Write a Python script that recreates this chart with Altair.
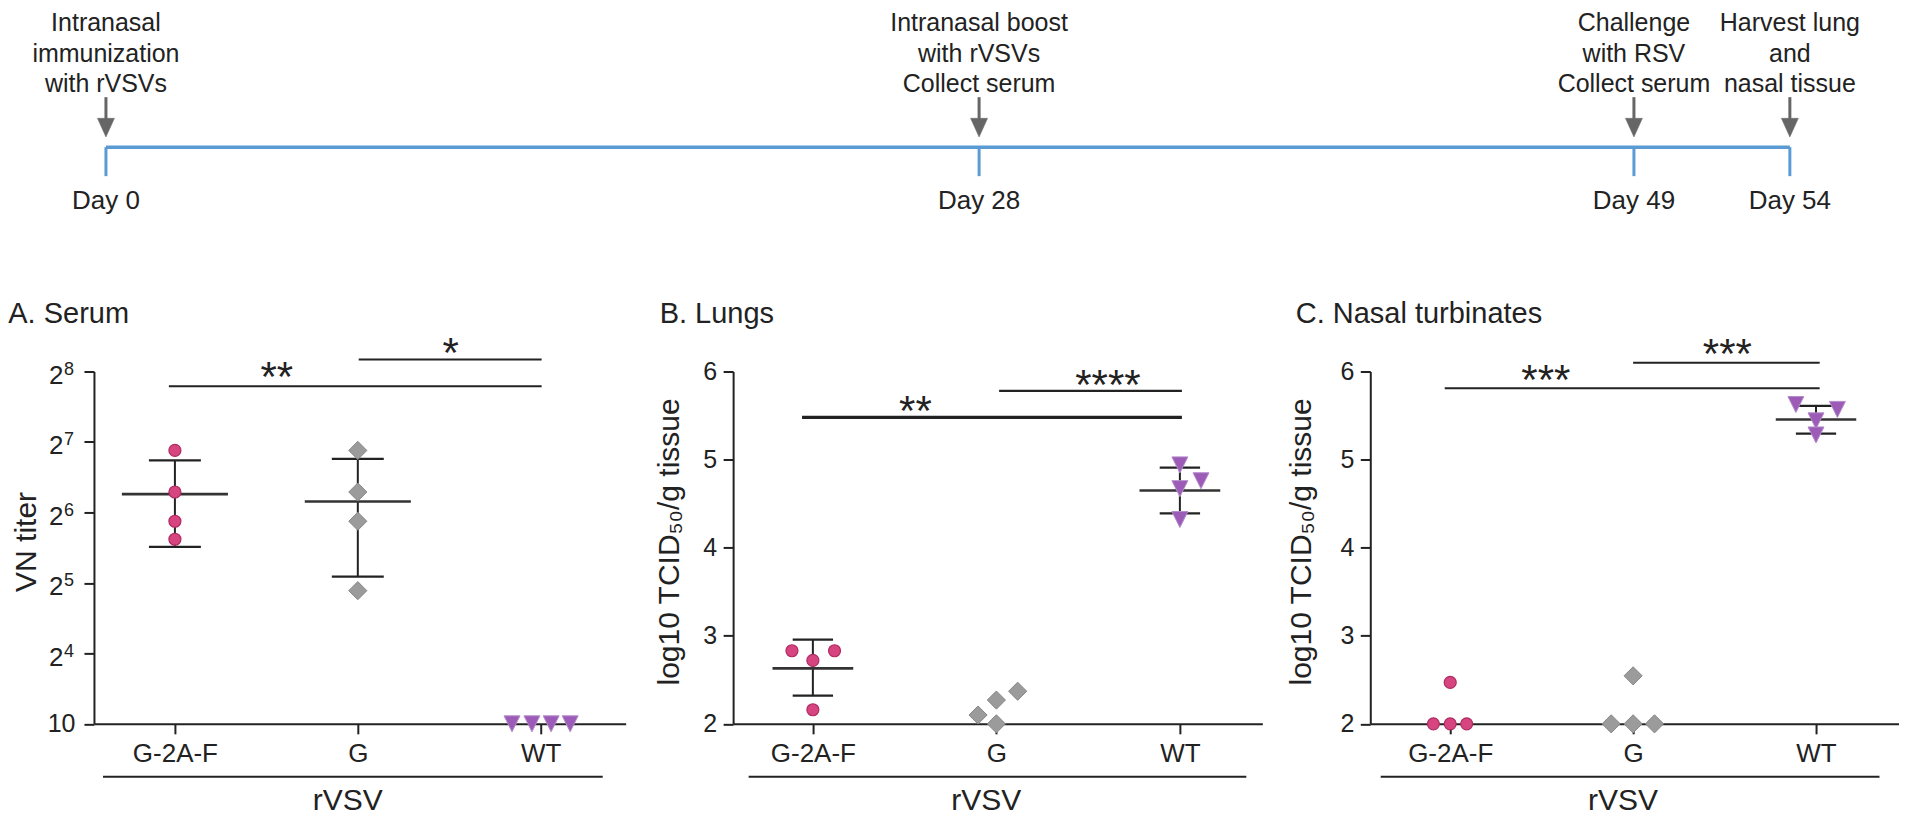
import altair as alt
import pandas as pd

FONT = "Liberation Sans, Arial, Helvetica, sans-serif"
INK = "#222222"
BLUE = "#5b9bd5"
ARROW = "#666666"

# ---------------- timeline ----------------
days = [0, 28, 49, 54]
day_labels = ["Day 0", "Day 28", "Day 49", "Day 54"]
event_line1 = ["Intranasal", "Intranasal boost", "Challenge", "Harvest lung"]
event_line2 = ["immunization", "with rVSVs", "with RSV", "and"]
event_line3 = ["with rVSVs", "Collect serum", "Collect serum", "nasal tissue"]

# ---------------- groups ----------------
groups = ["G-2A-F", "G", "WT"]

# ---------------- Panel A: serum VN titer (log2 units; 3 = detection limit "10")
A_tick_values = [3, 4, 5, 6, 7, 8]
A_limit_label = "10"
A_pow_values = [4, 5, 6, 7, 8]
A_pow_base = ["2", "2", "2", "2", "2"]
A_pow_exp = ["4", "5", "6", "7", "8"]
A_g2af = [6.88, 6.29, 5.875, 5.62]
A_g = [6.88, 6.29, 5.875, 4.89]
A_wt = [3, 3, 3, 3]
A_g2af_jit = [0, 0, 0, 0]
A_g_jit = [0, 0, 0, 0]
A_wt_jit = [-0.157, -0.048, 0.057, 0.161]
A_mean_groups = ["G-2A-F", "G"]
A_mean = [6.26, 6.155]
A_sd_lo = [5.51, 5.09]
A_sd_hi = [6.74, 6.76]
A_sig_x1 = [-0.033, 1.005]
A_sig_x2 = [2.005, 2.005]
A_sig_y = [7.79, 8.17]
A_sig_label = ["**", "*"]
A_sig_tx = [0.557, 1.508]
A_sig_ty = [8.06, 8.41]
A_sig_w = [2, 2]

# ---------------- Panel B: lungs, log10 TCID50/g
B_tick_values = [2, 3, 4, 5, 6]
B_g2af = [2.83, 2.72, 2.83, 2.16]
B_g = [2.10, 2.27, 2.37, 2.0]
B_wt = [4.94, 4.76, 4.67, 4.32]
B_g2af_jit = [-0.114, 0, 0.118, 0]
B_g_jit = [-0.10, 0, 0.116, 0]
B_wt_jit = [0, 0.115, 0, 0]
B_mean_groups = ["G-2A-F", "WT"]
B_mean = [2.63, 4.65]
B_sd_lo = [2.32, 4.39]
B_sd_hi = [2.955, 4.91]
B_sig_x1 = [-0.059, 1.015]
B_sig_x2 = [2.011, 2.011]
B_sig_y = [5.48, 5.78]
B_sig_label = ["**", "****"]
B_sig_tx = [0.559, 1.608]
B_sig_ty = [5.66, 5.966]
B_sig_w = [3.3, 2.3]

# ---------------- Panel C: nasal turbinates, log10 TCID50/g
C_tick_values = [2, 3, 4, 5, 6]
C_g2af = [2.47, 2.0, 2.0, 2.0]
C_g = [2.545, 2.0, 2.0, 2.0]
C_wt = [5.625, 5.57, 5.44, 5.28]
C_g2af_jit = [0, -0.092, 0, 0.09]
C_g_jit = [0, -0.12, 0, 0.117]
C_wt_jit = [-0.11, 0.117, 0, 0]
C_mean_groups = ["WT"]
C_mean = [5.455]
C_sd_lo = [5.295]
C_sd_hi = [5.61]
C_sig_x1 = [-0.03, 1.0]
C_sig_x2 = [2.02, 2.02]
C_sig_y = [5.81, 6.10]
C_sig_label = ["***", "***"]
C_sig_tx = [0.523, 1.515]
C_sig_ty = [6.02, 6.307]
C_sig_w = [2, 2]

# ---------------- styles ----------------
STYLE = {
    "G-2A-F": dict(shape="circle", size=144, fill="#d6457f", stroke="#b02a62", strokeWidth=1.2),
    "G": dict(shape="diamond", size=330, fill="#9b9b9b", stroke="#878787", strokeWidth=1.0),
    "WT": dict(shape="M-1,-1L1,-1L0,1Z", size=256, fill="#9b5bb6", stroke="#b58ccb", strokeWidth=1.0),
}
H = 352.5


def cond_expr(values, labels, default):
    s = ""
    for v, l in zip(values, labels):
        s += f"datum.value == {v} ? '{l}' : "
    return s + f"'{default}'"


XLAB = cond_expr([0, 1], groups[:2], groups[2])


def panel(p):
    xaxis = alt.Axis(values=[0, 1, 2], labelExpr=XLAB, title=None, grid=False,
                     domainColor=INK, domainWidth=2, tickColor=INK, tickWidth=2, tickSize=10,
                     labelFontSize=26, labelColor=INK, labelPadding=7, labelFlush=False,
                     labelOverlap=False, labelFont=FONT)
    yaxis_kw = dict(values=p["ticks"], title=p["ytitle"], grid=False,
                    domainColor=INK, domainWidth=2, tickColor=INK, tickWidth=2, tickSize=10,
                    labelFontSize=25, labelColor=INK, labelPadding=p["labpad"], labelFont=FONT,
                    labelOverlap=False, labelFlush=False,
                    titleFont=FONT, titleFontSize=30, titleFontWeight="normal", titleColor=INK,
                    titleAngle=270, titleAlign="center", titleBaseline="alphabetic",
                    titleX=p["titleX"], titleY=170)
    if "limit" in p:
        yaxis_kw["labelExpr"] = cond_expr([p["ticks"][0]], [p["limit"]], "")
    else:
        yaxis_kw["format"] = "d"
    yaxis = alt.Axis(**yaxis_kw)

    def X(f):
        return alt.X(f"{f}:Q", scale=alt.Scale(domain=p["xdom"], nice=False, zero=False), axis=xaxis)

    def Y(f):
        return alt.Y(f"{f}:Q", scale=alt.Scale(domain=p["ydom"], nice=False, zero=False), axis=yaxis)

    layers = []
    # error bars
    gi = [groups.index(g) for g in p["mgroups"]]
    sd = pd.DataFrame({"x": gi, "lo": p["lo"], "hi": p["hi"]})
    layers.append(alt.Chart(sd).mark_rule(color=INK, strokeWidth=2).encode(x=X("x"), y=Y("lo"), y2="hi"))
    caps = pd.DataFrame({
        "x1": [i - p["caphalf"] for i in gi] * 2,
        "x2": [i + p["caphalf"] for i in gi] * 2,
        "v": list(p["lo"]) + list(p["hi"]),
    })
    layers.append(alt.Chart(caps).mark_rule(color=INK, strokeWidth=2.2).encode(x=X("x1"), x2="x2", y=Y("v")))
    means = pd.DataFrame({
        "x1": [i - p["meanhalf"] for i in gi],
        "x2": [i + p["meanhalf"] for i in gi],
        "v": p["mean"],
    })
    layers.append(alt.Chart(means).mark_rule(color="#333333", strokeWidth=2.6).encode(x=X("x1"), x2="x2", y=Y("v")))
    # significance
    sig = pd.DataFrame({"x1": p["sx1"], "x2": p["sx2"], "v": p["sy"], "w": p["sw"],
                        "tx": p["stx"], "ty": p["sty"], "t": p["slab"]})
    layers.append(alt.Chart(sig).mark_rule(color=INK).encode(
        x=X("x1"), x2="x2", y=Y("v"), strokeWidth=alt.StrokeWidth("w:Q", scale=None, legend=None)))
    layers.append(alt.Chart(sig).mark_text(fontSize=42, dy=24, baseline="alphabetic", align="center",
                                           font=FONT, color=INK).encode(x=X("tx"), y=Y("ty"), text="t:N"))
    # power-of-two tick labels (panel A)
    if "pow_values" in p:
        pw = pd.DataFrame({"v": p["pow_values"], "b": p["pow_base"], "e": p["pow_exp"]})
        layers.append(alt.Chart(pw).mark_text(fontSize=26, align="right", baseline="alphabetic", dy=12.5,
                                              font=FONT, color=INK).encode(
            x=alt.value(-30.5), y=Y("v"), text="b:N"))
        layers.append(alt.Chart(pw).mark_text(fontSize=18, align="left", baseline="alphabetic", dy=3.5,
                                              font=FONT, color=INK).encode(
            x=alt.value(-30), y=Y("v"), text="e:N"))
    # points
    for g, vals, jit in zip(groups, p["vals"], p["jits"]):
        k = groups.index(g)
        df = pd.DataFrame({"x": [k + j for j in jit], "v": vals})
        st = STYLE[g]
        layers.append(alt.Chart(df).mark_point(shape=st["shape"], size=st["size"], filled=True,
                                               fill=st["fill"], stroke=st["stroke"],
                                               strokeWidth=st["strokeWidth"], opacity=1,
                                               fillOpacity=1).encode(x=X("x"), y=Y("v")))
    # rVSV bracket + label
    br = pd.DataFrame({"x1": [p["bracket"][0]], "x2": [p["bracket"][1]], "xm": [0.945], "t": ["rVSV"]})
    layers.append(alt.Chart(br).mark_rule(color=INK, strokeWidth=2).encode(x=X("x1"), x2="x2", y=alt.value(H + 53)))
    layers.append(alt.Chart(br).mark_text(fontSize=30, align="center", baseline="alphabetic", font=FONT,
                                          color=INK).encode(x=X("xm"), y=alt.value(H + 86), text="t:N"))
    # panel title
    tt = pd.DataFrame({"t": [p["title"]]})
    layers.append(alt.Chart(tt).mark_text(fontSize=29, align="left", baseline="alphabetic", font=FONT,
                                          color=INK).encode(x=alt.value(p["title_x"]), y=alt.value(-49), text="t:N"))
    return alt.layer(*layers).properties(width=p["width"], height=H)


TCID = "log10 TCID\u2085\u2080/g tissue"

pA = panel(dict(title="A. Serum", ytitle="VN titer", ticks=A_tick_values, limit=A_limit_label,
                pow_values=A_pow_values, pow_base=A_pow_base, pow_exp=A_pow_exp,
                ydom=[3, 8], xdom=[-0.4426, 2.4645], width=532, labpad=9, titleX=-58.5, title_x=-85.7,
                vals=[A_g2af, A_g, A_wt], jits=[A_g2af_jit, A_g_jit, A_wt_jit],
                mgroups=A_mean_groups, mean=A_mean, lo=A_sd_lo, hi=A_sd_hi, meanhalf=0.29, caphalf=0.142,
                sx1=A_sig_x1, sx2=A_sig_x2, sy=A_sig_y, sw=A_sig_w, stx=A_sig_tx, sty=A_sig_ty, slab=A_sig_label,
                bracket=[-0.393, 2.339]))
pB = panel(dict(title="B. Lungs", ytitle=TCID, ticks=B_tick_values,
                ydom=[2, 6], xdom=[-0.4346, 2.4493], width=529.5, labpad=6.5, titleX=-54.5, title_x=-73.5,
                vals=[B_g2af, B_g, B_wt], jits=[B_g2af_jit, B_g_jit, B_wt_jit],
                mgroups=B_mean_groups, mean=B_mean, lo=B_sd_lo, hi=B_sd_hi, meanhalf=0.22, caphalf=0.11,
                sx1=B_sig_x1, sx2=B_sig_x2, sy=B_sig_y, sw=B_sig_w, stx=B_sig_tx, sty=B_sig_ty, slab=B_sig_label,
                bracket=[-0.35, 2.362]))
pC = panel(dict(title="C. Nasal turbinates", ytitle=TCID, ticks=C_tick_values,
                ydom=[2, 6], xdom=[-0.437, 2.451], width=528.5, labpad=6.5, titleX=-60, title_x=-74.5,
                vals=[C_g2af, C_g, C_wt], jits=[C_g2af_jit, C_g_jit, C_wt_jit],
                mgroups=C_mean_groups, mean=C_mean, lo=C_sd_lo, hi=C_sd_hi, meanhalf=0.22, caphalf=0.11,
                sx1=C_sig_x1, sx2=C_sig_x2, sy=C_sig_y, sw=C_sig_w, stx=C_sig_tx, sty=C_sig_ty, slab=C_sig_label,
                bracket=[-0.38, 2.347]))

# ---------------- timeline chart ----------------
tl = pd.DataFrame({
    "day": days,
    "label": day_labels,
    "l1": event_line1,
    "l2": event_line2,
    "l3": event_line3,
})
span = pd.DataFrame({"start": [min(days)], "end": [max(days)]})
xs = alt.Scale(domain=[-0.3846, 57.468], nice=False, zero=False)
TX = alt.X("day:Q", scale=xs, axis=None)

t_line = alt.Chart(span).mark_rule(color=BLUE, strokeWidth=3.5).encode(
    x=alt.X("start:Q", scale=xs, axis=None), x2="end", y=alt.value(139))
t_ticks = alt.Chart(tl).mark_rule(color=BLUE, strokeWidth=3).encode(x=TX, y=alt.value(139), y2=alt.value(168))
t_shaft = alt.Chart(tl).mark_rule(color=ARROW, strokeWidth=3).encode(x=TX, y=alt.value(89), y2=alt.value(112))
t_head = alt.Chart(tl).mark_point(shape="M-1,-1.1L1,-1.1L0,1.1Z", size=289, filled=True, fill=ARROW,
                                  stroke=ARROW, strokeWidth=0.5, opacity=1).encode(x=TX, y=alt.value(119.5))
t_text = [
    alt.Chart(tl).mark_text(fontSize=25, align="center", baseline="alphabetic", font=FONT, color=INK).encode(
        x=TX, y=alt.value(yy), text=f"{col}:N")
    for col, yy in (("l1", 23), ("l2", 53.5), ("l3", 84))
]
t_days = alt.Chart(tl).mark_text(fontSize=26, align="center", baseline="alphabetic", font=FONT,
                                 color=INK).encode(x=TX, y=alt.value(201), text="label:N")
timeline = alt.layer(t_line, t_ticks, t_shaft, t_head, *t_text, t_days).properties(width=1805, height=215)

row = alt.hconcat(pA, pB, pC, spacing=107.5, bounds="flush")
chart = alt.vconcat(timeline, row, spacing=148.5, bounds="flush").properties(
    padding=0, background="white"
).configure(font=FONT, view=alt.ViewConfig(stroke=None))

chart.save("out.html", embed_options={"renderer": "svg", "actions": False})
